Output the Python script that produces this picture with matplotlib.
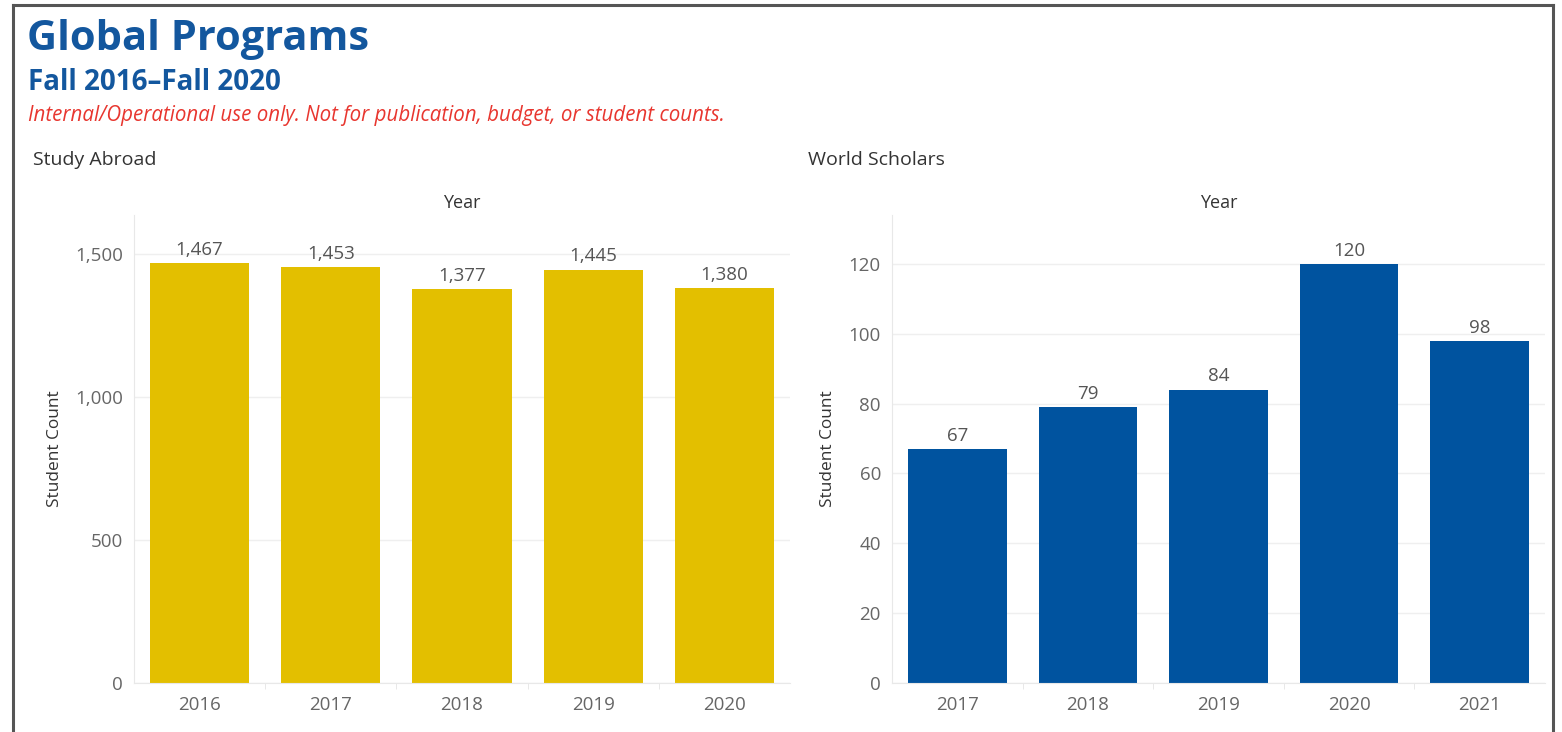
import matplotlib.pyplot as plt
from matplotlib.lines import Line2D

# student counts per year
abroad_years = ["2016", "2017", "2018", "2019", "2020"]
abroad_counts = [1467, 1453, 1377, 1445, 1380]

scholar_years = ["2017", "2018", "2019", "2020", "2021"]
scholar_counts = [67, 79, 84, 120, 98]

GOLD = "#E3BF00"
BLUE = "#00539F"
TITLE_BLUE = "#13579E"
TICK_GREY = "#666666"
FONT = "Open Sans"

plt.rcParams["font.family"] = [FONT, "DejaVu Sans"]

W, H = 1562, 732
fig = plt.figure(figsize=(W / 100, H / 100), dpi=100)


def px_axes(x0, y0, x1, y1):
    return fig.add_axes([x0 / W, 1 - y1 / H, (x1 - x0) / W, (y1 - y0) / H])


def bar_panel(ax, cats, vals, color, ymax, ticks, fmt):
    xs = range(len(cats))
    ax.bar(xs, vals, width=0.755, color=color, zorder=2)
    for x, v in zip(xs, vals):
        ax.annotate(fmt(v), (x, v), xytext=(0, 3), textcoords="offset points",
                    ha="center", va="bottom", fontsize=13.5, color="#555555")
    ax.set_xlim(-0.5, len(cats) - 0.5)
    ax.set_ylim(0, ymax)
    ax.set_xticks(list(xs))
    ax.set_xticklabels(cats)
    ax.set_xticks([i + 0.5 for i in range(len(cats) - 1)], minor=True)
    ax.set_yticks(ticks)
    ax.set_yticklabels([fmt(t) for t in ticks])
    ax.tick_params(axis="x", which="major", length=0, pad=9, labelsize=13.5, labelcolor=TICK_GREY)
    ax.tick_params(axis="x", which="minor", length=4, color="#e4e4e4", direction="out")
    ax.tick_params(axis="y", length=0, pad=8, labelsize=13.5, labelcolor=TICK_GREY)
    ax.grid(axis="y", color="#efefef", linewidth=1, zorder=0)
    for side in ("top", "right"):
        ax.spines[side].set_visible(False)
    ax.spines["left"].set_color("#e8e8e8")
    ax.spines["bottom"].set_color("#e8e8e8")
    ax.set_ylabel("Student Count", fontsize=12.4, color="#333333", labelpad=9)
    ax.set_title("Year", fontsize=13, color="#333333", pad=5)


ax1 = px_axes(134, 215, 790, 683)
bar_panel(ax1, abroad_years, abroad_counts, GOLD, 1636, [0, 500, 1000, 1500],
          lambda v: f"{v:,}")

ax2 = px_axes(892, 215, 1545, 683)
bar_panel(ax2, scholar_years, scholar_counts, BLUE, 134, [0, 20, 40, 60, 80, 100, 120],
          lambda v: f"{v}")

# headings
fig.text(27 / W, 1 - 40 / H, "Global Programs", fontsize=30, fontweight="bold",
         color=TITLE_BLUE, va="center")
fig.text(28 / W, 1 - 82 / H, "Fall 2016\u2013Fall 2020", fontsize=20, fontweight="bold",
         color=TITLE_BLUE, va="center")
fig.text(28 / W, 1 - 115 / H,
         "Internal/Operational use only. Not for publication, budget, or student counts.",
         fontsize=14.8, style="italic", color="#E8362F", va="center")
fig.text(33 / W, 1 - 160 / H, "Study Abroad", fontsize=14, color="#333333", va="center")
fig.text(808 / W, 1 - 160 / H, "World Scholars", fontsize=14, color="#333333", va="center")

# dashboard frame
frame = dict(color="#555555", linewidth=2.2, transform=fig.transFigure)
fig.add_artist(Line2D([13 / W, 1553 / W], [1 - 5 / H, 1 - 5 / H], **frame))
fig.add_artist(Line2D([13 / W, 13 / W], [0, 1 - 5 / H], **frame))
fig.add_artist(Line2D([1553 / W, 1553 / W], [0, 1 - 5 / H], **frame))

fig.savefig("out.png", dpi=100)
